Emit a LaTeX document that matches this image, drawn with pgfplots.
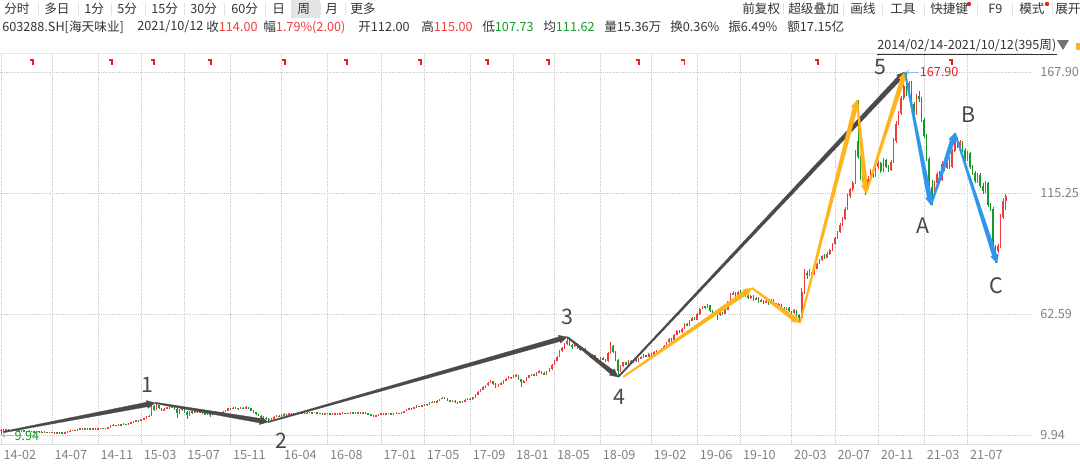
\documentclass[border=0pt]{standalone}
\usepackage{pgfplots}
\usepackage{pgfplotstable}
\pgfplotsset{compat=1.18}
\usepackage{fontspec}
\setmainfont{Noto Sans CJK SC}
\usetikzlibrary{arrows.meta}
\definecolor{upred}{HTML}{EE3B3B}
\definecolor{dngreen}{HTML}{159A2A}
\definecolor{txt}{HTML}{333333}
\definecolor{tickgray}{HTML}{808080}
\definecolor{waveblk}{HTML}{4A4A4A}
\definecolor{waveyel}{HTML}{FFB41E}
\definecolor{waveblu}{HTML}{2F95EE}
\definecolor{ltblue}{HTML}{86C0EC}
\definecolor{sepgray}{HTML}{E2E2E2}
\definecolor{selbg}{HTML}{E4E4E4}
\definecolor{markred}{HTML}{E8202A}
\pgfdeclareplotmark{divmark}{%
  \pgfpathmoveto{\pgfpoint{-1.8pt}{1.7pt}}%
  \pgfpathlineto{\pgfpoint{0.9pt}{1.7pt}}%
  \pgfpathlineto{\pgfpoint{0.9pt}{-2.1pt}}%
  \pgfusepathqstroke}
\pgfplotstableread{
o h l c
11.6 12.6 9.94 12.3
12.3 12.6 11.8 12.0
12.0 12.6 11.9 12.4
12.4 12.6 11.9 12.1
12.1 12.3 11.7 11.9
11.9 12.4 11.8 12.2
12.2 12.3 11.6 11.8
11.8 12.0 11.5 11.7
11.7 12.1 11.6 11.9
11.9 12.0 11.4 11.6
11.6 11.8 11.3 11.5
11.5 11.9 11.4 11.7
11.7 11.8 11.2 11.4
11.4 11.6 11.1 11.3
11.3 11.8 11.2 11.6
11.6 11.7 11.2 11.4
11.4 11.5 11.0 11.2
11.2 11.5 11.1 11.3
11.3 11.4 10.9 11.1
11.1 11.3 10.8 11.0
11.0 11.4 10.9 11.2
11.2 11.3 10.7 10.9
10.9 11.3 10.8 11.1
11.1 11.2 10.8 11.0
11.0 11.1 10.6 10.8
10.8 11.3 10.7 11.1
11.1 11.6 11.0 11.4
11.4 12.0 11.3 11.8
11.8 12.3 11.7 12.1
12.1 12.3 11.8 12.0
12.0 12.6 11.9 12.4
12.4 13.0 12.3 12.8
12.8 12.9 12.4 12.6
12.6 13.1 12.5 12.9
12.9 13.0 12.5 12.7
12.7 12.9 12.4 12.6
12.6 13.1 12.5 12.9
12.9 13.0 12.5 12.7
12.7 13.0 12.6 12.8
12.8 13.2 12.7 13.0
13.0 13.1 12.6 12.8
12.8 13.1 12.7 12.9
12.9 13.5 12.8 13.3
13.3 14.1 13.2 13.9
13.9 14.6 13.8 14.4
14.4 14.5 13.9 14.1
14.1 14.8 14.0 14.6
14.6 14.7 14.1 14.3
14.3 15.0 14.2 14.8
14.8 14.9 14.3 14.5
14.5 15.2 14.4 15.0
15.0 15.6 14.9 15.4
15.4 16.1 15.3 15.9
15.9 16.5 15.8 16.3
16.3 16.4 15.9 16.1
16.1 17.0 16.0 16.8
16.8 17.4 16.6 17.2
17.2 18.1 17.1 17.9
17.9 18.7 17.7 18.4
18.4 23.0 18.2 22.6
22.6 23.2 20.5 21.0
21.0 23.6 20.8 22.8
22.8 23.1 21.2 21.5
21.5 21.9 20.2 20.6
20.6 21.7 20.4 21.4
21.4 22.3 21.1 22.0
22.0 22.4 21.5 21.8
21.8 23.0 21.6 22.3
22.3 22.6 20.9 21.2
21.2 21.5 17.5 19.6
19.6 21.1 19.2 20.8
20.8 21.9 20.5 21.5
21.5 21.7 19.5 19.8
19.8 20.2 17.0 18.6
18.6 20.5 18.3 20.2
20.2 20.6 19.2 19.5
19.5 20.8 19.3 20.4
20.4 20.6 19.3 19.6
19.6 20.4 19.4 20.1
20.1 20.3 19.1 19.4
19.4 19.6 18.7 19.0
19.0 20.1 18.8 19.8
19.8 20.0 17.6 18.8
18.8 19.8 18.6 19.5
19.5 20.2 19.3 19.9
19.9 20.1 19.1 19.4
19.4 19.9 19.2 19.7
19.7 20.3 19.5 20.0
20.0 20.9 19.8 20.6
20.6 21.8 20.4 21.5
21.5 21.7 21.0 21.3
21.3 22.1 21.1 21.8
21.8 22.0 21.4 21.6
21.6 21.8 21.1 21.4
21.4 22.2 21.3 21.9
21.9 22.1 21.4 21.6
21.6 22.4 21.5 22.0
22.0 22.2 21.5 21.7
21.7 21.8 20.2 20.5
20.5 20.7 19.5 19.8
19.8 20.0 18.6 18.9
18.9 19.2 18.1 18.4
18.4 18.7 17.5 17.8
17.8 18.0 17.0 17.3
17.3 17.6 16.6 17.0
17.0 17.2 15.6 16.6
16.6 17.5 16.4 17.2
17.2 18.1 17.0 17.8
17.8 18.6 17.6 18.4
18.4 18.6 17.8 18.0
18.0 18.9 17.9 18.6
18.6 19.3 18.4 19.0
19.0 19.1 18.6 18.8
18.8 19.5 18.7 19.3
19.3 19.4 18.9 19.1
19.1 19.6 19.0 19.4
19.4 19.8 19.3 19.6
19.6 19.7 19.0 19.2
19.2 19.7 19.1 19.5
19.5 19.6 19.1 19.3
19.3 19.9 19.2 19.7
19.7 20.0 19.6 19.8
19.8 19.9 19.4 19.6
19.6 20.1 19.5 19.9
19.9 20.0 19.3 19.5
19.5 19.6 19.1 19.3
19.3 19.4 18.9 19.1
19.1 19.4 19.0 19.2
19.2 19.6 19.1 19.4
19.4 19.5 18.8 19.0
19.0 19.3 18.9 19.1
19.1 19.5 19.0 19.3
19.3 19.4 18.9 19.1
19.1 19.6 19.0 19.4
19.4 19.8 19.3 19.6
19.6 19.7 19.2 19.4
19.4 19.7 19.3 19.5
19.5 19.9 19.4 19.7
19.7 19.8 19.3 19.5
19.5 19.8 19.4 19.6
19.6 20.0 19.5 19.8
19.8 19.9 19.4 19.6
19.6 19.9 19.5 19.7
19.7 19.8 19.3 19.5
19.5 19.6 18.8 19.0
19.0 19.1 18.3 18.5
18.5 18.7 17.8 18.2
18.2 18.6 18.0 18.4
18.4 19.1 18.3 18.9
18.9 19.5 18.8 19.3
19.3 19.4 18.8 19.0
19.0 19.7 18.9 19.5
19.5 19.6 19.1 19.3
19.3 19.4 18.8 19.0
19.0 19.6 18.9 19.4
19.4 19.8 19.3 19.6
19.6 19.7 19.3 19.5
19.5 20.0 19.4 19.8
19.8 20.5 19.7 20.3
20.3 21.2 20.2 21.0
21.0 21.8 20.9 21.6
21.6 21.7 21.0 21.2
21.2 22.2 21.1 22.0
22.0 22.8 21.9 22.6
22.6 22.7 22.0 22.3
22.3 23.2 22.2 23.0
23.0 23.6 22.9 23.4
23.4 23.5 22.9 23.1
23.1 24.1 23.0 23.9
23.9 24.7 23.8 24.5
24.5 24.6 24.0 24.2
24.2 25.0 24.1 24.8
24.8 25.8 24.7 25.6
25.6 26.5 25.5 26.2
26.2 26.3 25.5 25.7
25.7 25.9 24.8 25.0
25.0 25.2 24.2 24.4
24.4 25.1 24.3 24.9
24.9 25.0 24.0 24.2
24.2 24.4 23.7 24.0
24.0 24.8 23.9 24.6
24.6 24.7 24.1 24.3
24.3 25.4 24.2 25.2
25.2 26.0 25.1 25.8
25.8 25.9 25.2 25.4
25.4 26.5 25.3 26.3
26.3 27.7 26.2 27.5
27.5 29.0 27.4 28.8
28.8 29.9 28.6 29.6
29.6 31.1 29.5 30.8
30.8 31.8 30.6 31.5
31.5 32.9 31.3 32.6
32.6 33.8 32.4 33.4
33.4 33.6 31.9 32.2
32.2 32.4 30.6 31.0
31.0 32.0 30.8 31.8
31.8 32.8 31.6 32.5
32.5 33.9 32.3 33.6
33.6 34.8 33.4 34.5
34.5 35.5 34.3 35.2
35.2 35.4 34.5 34.8
34.8 35.9 34.6 35.6
35.6 36.4 35.4 36.0
36.0 36.2 33.9 34.2
34.2 34.5 31.0 32.8
32.8 33.8 32.5 33.5
33.5 35.0 33.3 34.8
34.8 36.1 34.6 35.9
35.9 36.7 35.7 36.4
36.4 36.6 35.7 36.0
36.0 37.4 35.8 37.2
37.2 38.1 37.0 37.8
37.8 38.0 36.7 37.0
37.0 37.2 36.0 36.4
36.4 37.8 36.2 37.5
37.5 38.9 37.3 38.6
38.6 40.8 38.4 40.5
40.5 42.6 40.3 42.3
42.3 44.3 42.0 44.0
44.0 46.9 43.8 46.5
46.5 48.2 46.0 47.8
47.8 50.0 47.5 49.6
49.6 52.0 49.3 51.0
51.0 51.3 48.8 49.2
49.2 49.6 47.5 48.5
48.5 49.8 48.2 49.3
49.3 49.5 47.2 47.6
47.6 48.0 46.3 46.8
46.8 47.8 46.5 47.4
47.4 47.6 45.5 45.9
45.9 46.2 44.8 45.2
45.2 45.4 43.6 44.0
44.0 45.0 43.8 44.6
44.6 44.8 42.8 43.2
43.2 43.5 42.0 42.5
42.5 44.0 42.3 43.6
43.6 43.8 42.4 42.8
42.8 43.1 41.6 42.0
42.0 45.9 41.8 45.5
45.5 50.2 45.2 48.6
48.6 49.0 45.5 46.0
46.0 46.4 42.0 42.5
42.5 43.0 35.3 37.6
37.6 40.2 37.2 39.8
39.8 41.9 39.5 41.5
41.5 41.8 40.2 40.6
40.6 42.6 40.4 42.2
42.2 42.5 41.0 41.4
41.4 43.2 41.2 42.8
42.8 43.0 41.7 42.0
42.0 43.5 41.8 43.1
43.1 44.2 42.9 43.8
43.8 45.0 43.6 44.6
44.6 44.9 43.7 44.0
44.0 45.6 43.8 45.2
45.2 45.5 44.4 44.8
44.8 46.3 44.6 45.9
45.9 47.0 45.7 46.6
46.6 46.9 45.8 46.1
46.1 47.7 45.9 47.3
47.3 48.9 47.1 48.5
48.5 50.6 48.3 50.2
50.2 52.2 50.0 51.8
51.8 52.1 50.6 51.0
51.0 53.9 50.8 53.5
53.5 55.6 53.3 55.2
55.2 55.5 54.2 54.6
54.6 56.5 54.4 56.1
56.1 58.8 55.9 58.4
58.4 58.7 57.2 57.6
57.6 60.0 57.4 59.6
59.6 61.4 59.4 61.0
61.0 61.3 59.8 60.2
60.2 62.9 60.0 62.5
62.5 65.2 62.3 64.8
64.8 66.3 64.6 65.9
65.9 66.2 64.8 65.2
65.2 66.8 65.0 66.4
66.4 66.6 63.6 64.0
64.0 64.3 62.4 62.8
62.8 63.9 62.6 63.5
63.5 63.8 60.0 62.0
62.0 63.6 61.8 63.2
63.2 63.5 62.2 62.6
62.6 64.9 62.4 64.5
64.5 68.4 64.3 68.0
68.0 71.6 67.8 71.2
71.2 72.4 70.9 71.8
71.8 72.0 70.2 70.6
70.6 72.6 70.4 72.0
72.0 73.2 71.2 71.5
71.5 71.8 69.8 70.2
70.2 71.4 70.0 71.0
71.0 71.3 69.0 69.4
69.4 70.9 69.2 70.5
70.5 70.8 68.4 68.8
68.8 69.9 68.6 69.5
69.5 69.8 67.5 67.9
67.9 69.0 67.7 68.6
68.6 68.9 67.1 67.5
67.5 68.7 67.3 68.3
68.3 68.5 66.6 67.0
67.0 69.2 66.8 68.8
68.8 69.1 66.8 67.2
67.2 67.5 65.6 66.0
66.0 67.2 65.8 66.8
66.8 67.1 64.8 65.2
65.2 65.5 64.2 64.6
64.6 65.8 64.4 65.4
65.4 65.7 63.4 63.8
63.8 64.1 62.6 63.0
63.0 64.6 62.8 64.2
64.2 64.5 61.6 62.0
62.0 62.4 58.7 61.0
61.0 74.0 60.8 72.0
72.0 82.0 71.5 80.5
80.5 81.2 78.0 79.6
79.6 82.4 79.2 81.0
81.0 81.6 78.6 79.8
79.8 82.8 79.5 82.2
82.2 85.0 82.0 84.5
84.5 86.6 84.2 86.0
86.0 88.4 85.8 87.8
87.8 88.6 86.4 87.0
87.0 89.4 86.8 88.8
88.8 91.0 88.5 90.5
90.5 93.6 90.2 93.0
93.0 96.2 92.8 95.6
95.6 98.8 95.3 98.2
98.2 102.2 97.8 101.5
101.5 104.8 101.0 104.0
104.0 109.2 103.6 108.5
108.5 114.8 108.0 114.0
114.0 117.6 113.2 116.8
116.8 120.4 116.0 119.5
119.5 134.0 119.0 133.0
138.0 155.7 130.0 131.0
131.0 132.0 121.0 122.5
122.5 124.0 118.5 120.0
120.0 121.0 114.5 117.5
117.5 122.5 116.8 121.5
121.5 125.8 120.8 124.8
124.8 125.6 122.0 123.0
123.0 127.4 122.4 126.5
126.5 129.4 125.8 128.2
128.2 128.8 124.0 125.0
125.0 130.4 124.6 129.6
129.6 130.2 126.0 126.8
126.8 127.4 124.2 125.4
125.4 129.6 124.8 128.9
128.9 139.0 128.5 138.0
138.0 146.5 137.2 145.5
145.5 151.0 144.8 150.0
150.0 157.5 149.2 156.5
156.5 163.0 155.6 162.0
162.0 167.9 157.5 158.5
158.5 164.0 157.8 163.0
163.0 163.8 153.0 154.0
154.0 155.0 148.5 149.5
149.5 158.2 149.0 157.5
157.5 159.5 155.0 156.0
156.0 157.0 146.0 147.0
147.0 148.0 139.0 140.0
140.0 141.0 129.0 130.0
130.0 131.0 116.0 118.0
118.0 121.0 110.0 114.0
114.0 120.5 113.0 119.5
119.5 124.5 118.5 123.5
123.5 124.8 120.0 121.0
121.0 129.0 120.5 128.0
128.0 129.2 125.0 126.0
126.0 131.5 125.5 130.5
130.5 131.0 125.5 126.5
126.5 134.5 126.0 133.5
133.5 141.5 133.0 138.5
138.5 139.5 135.0 136.0
136.0 138.5 135.0 137.5
137.5 138.0 133.0 134.0
134.0 134.8 129.0 130.0
130.0 133.5 129.2 132.5
132.5 133.0 125.5 126.5
126.5 127.5 123.0 124.0
124.0 125.0 119.5 120.5
120.5 124.0 119.8 123.0
123.0 123.8 117.5 118.5
118.5 119.5 115.0 116.0
116.0 120.5 115.2 119.5
119.5 120.0 109.0 110.0
110.0 111.0 107.5 108.5
108.5 109.0 90.5 91.5
91.5 92.5 85.0 90.0
90.0 93.0 89.2 92.0
92.0 106.0 91.5 105.0
105.0 113.0 104.0 112.0
112.0 115.0 107.73 114.0
}\prices
\begin{document}
\begin{tikzpicture}
\useasboundingbox (0pt,0pt) rectangle (810pt,-348pt);
% ---------- header (pixel coordinates) ----------
\begin{scope}[x=0.75pt,y=-0.75pt,every node/.style={inner sep=0pt,anchor=west,text=txt,font=\fontsize{9.5}{11}\selectfont}]
  \fill[selbg] (291,0) rectangle (320,18);
  \foreach \sx in {38,78,111,145,184,224,265,291,320,345,783,843,882,924,977,1012,1052}
    \draw[sepgray,line width=0.6pt] (\sx,3) -- (\sx,15);
  \node at (4,9) {分时};
  \node at (44,9) {多日};
  \node at (84,9) {1分};
  \node at (117,9) {5分};
  \node at (151,9) {15分};
  \node at (190,9) {30分};
  \node at (231,9) {60分};
  \node at (272,9) {日};
  \node at (297,9) {周};
  \node at (325,9) {月};
  \node at (350,9) {更多};
  \node at (742,9) {前复权};
  \node at (788,9) {超级叠加};
  \node at (850,9) {画线};
  \node at (890,9) {工具};
  \node at (930,9) {快捷键};
  \fill[markred] (969,4) circle (2.2);
  \node at (988,9) {F9};
  \node at (1019,9) {模式};
  \fill[markred] (1047,4) circle (2.2);
  \node at (1055,9) {展开};
  % info row
  \node at (2,27) {603288.SH[海天味业]};
  \node at (137,27) {2021/10/12};
  \node at (206,27) {收\textcolor{upred}{114.00}};
  \node at (263,27) {幅\textcolor{upred}{1.79\%(2.00)}};
  \node at (358,27) {开112.00};
  \node at (421,27) {高\textcolor{upred}{115.00}};
  \node at (482,27) {低\textcolor{dngreen}{107.73}};
  \node at (543,27) {均\textcolor{dngreen}{111.62}};
  \node at (604,27) {量15.36万};
  \node at (670,27) {换0.36\%};
  \node at (728,27) {振6.49\%};
  \node at (787,27) {额17.15亿};
  % range row
  \node (rng) at (877,46) {2014/02/14-2021/10/12(395周)};
  \draw[txt,line width=0.6pt] (877,54) -- (rng.east |- 0,54);
  \fill[black!55] (1057,40) -- (1069,40) -- (1063,50) -- cycle;
  \fill[waveyel] (1076,43) rectangle (1080,50);
  % chart frame lines
  \draw[black!10,line width=0.6pt] (0,53) -- (1032,53);
  \draw[black!12,line width=0.6pt] (0,444) -- (1080,444);
\end{scope}
% ---------- chart ----------
\begin{axis}[
  at={(0pt,-333pt)}, anchor=south west,
  scale only axis, width=774pt, height=293.25pt,
  xmin=-0.39, xmax=404.3, ymin=6.02, ymax=176.2,
  axis line style={draw=none},
  major tick length=0pt,
  xtick={0,20,38,55,72,90,110,128,149,166,184,201,217,235,255,273,290,310,327,344,362,379},
  xticklabels={14-02,14-07,14-11,15-03,15-07,15-11,16-04,16-08,17-01,17-05,17-09,18-01,18-05,18-09,19-02,19-06,19-10,20-03,20-07,20-11,21-03,21-07},
  ytick={9.94,62.59,115.25,167.90},
  yticklabels={9.94,62.59,115.25,167.90},
  ytick pos=right, yticklabel pos=right,
  xmajorgrids, ymajorgrids,
  grid style={densely dotted, draw=black!20, line width=0.5pt},
  /pgf/number format/assume math mode=true,
  tick label style={font=\fontsize{9.5}{11}\selectfont, text=tickgray, inner sep=0pt},
  xticklabel style={anchor=north west, xshift=1.8pt, yshift=-4.5pt},
  yticklabel style={anchor=west, xshift=6pt},
  clip=false,
]
% up candles (red)
\addplot[draw=none, mark=none, restrict y to domain=0:500,
  error bars/.cd, y dir=both, y explicit, error mark=none,
  error bar style={draw=upred, solid, line width=0.45pt}]
  table[x expr=\coordindex, y expr={(\thisrow{h}+\thisrow{l})/2+1000*(\thisrow{c}<\thisrow{o})}, y error expr={(\thisrow{h}-\thisrow{l})/2}] {\prices};
\addplot[draw=none, mark=none, restrict y to domain=0:500,
  error bars/.cd, y dir=both, y explicit, error mark=none,
  error bar style={draw=upred, solid, line width=1.15pt}]
  table[x expr=\coordindex, y expr={(\thisrow{o}+\thisrow{c})/2+1000*(\thisrow{c}<\thisrow{o})}, y error expr={max(abs(\thisrow{c}-\thisrow{o})/2,0.15)}] {\prices};
% down candles (green)
\addplot[draw=none, mark=none, restrict y to domain=0:500,
  error bars/.cd, y dir=both, y explicit, error mark=none,
  error bar style={draw=dngreen, solid, line width=0.45pt}]
  table[x expr=\coordindex, y expr={(\thisrow{h}+\thisrow{l})/2+1000*(\thisrow{c}>=\thisrow{o})}, y error expr={(\thisrow{h}-\thisrow{l})/2}] {\prices};
\addplot[draw=none, mark=none, restrict y to domain=0:500,
  error bars/.cd, y dir=both, y explicit, error mark=none,
  error bar style={draw=dngreen, solid, line width=1.15pt}]
  table[x expr=\coordindex, y expr={(\thisrow{o}+\thisrow{c})/2+1000*(\thisrow{c}>=\thisrow{o})}, y error expr={max(abs(\thisrow{c}-\thisrow{o})/2,0.15)}] {\prices};
% dividend markers
\addplot[only marks, mark=divmark, markred, line width=1.25pt] coordinates {
 (12.2,172.3) (43.1,172.3) (59.6,172.3) (82.0,172.3) (111,172.3) (135.3,172.3) (164.3,172.3)
 (190.6,172.3) (214.5,172.3) (249.8,172.3) (267.5,172.3) (320,172.3) (372.5,172.3)};
% black waves (tapered arrows)
\addplot[fill=waveblk, draw=waveblk, line width=0.2pt] coordinates {(0.748,11.499) (57.149,24.226) (57.023,24.953) (60.4,23.9) (57.615,21.533) (57.489,22.260) (0.852,10.901)};
\addplot[fill=waveblk, draw=waveblk, line width=0.2pt] coordinates {(60.446,24.200) (101.757,17.167) (101.868,17.897) (104.7,15.6) (101.346,14.463) (101.457,15.193) (60.354,23.600)};
\addplot[fill=waveblk, draw=waveblk, line width=0.2pt] coordinates {(104.625,15.893) (218.735,52.611) (218.553,53.323) (222,52.6) (219.411,49.973) (219.229,50.685) (104.775,15.307)};
\addplot[fill=waveblk, draw=waveblk, line width=0.2pt] coordinates {(222.169,52.840) (240.088,38.136) (240.499,38.718) (242,35.2) (238.563,35.978) (238.975,36.560) (221.831,52.360)};
\addplot[fill=waveblk, draw=waveblk, line width=0.2pt] coordinates {(241.800,35.409) (351.693,166.050) (351.208,166.557) (354.5,167.9) (353.492,164.171) (353.007,164.678) (242.200,34.991)};
% yellow waves
\addplot[fill=waveyel, draw=waveyel, line width=0.2pt] coordinates {(243.844,35.451) (291.406,72.746) (291.027,73.355) (294.5,73.9) (292.809,70.489) (292.431,71.098) (244.156,34.949)};
\addplot[fill=waveyel, draw=waveyel, line width=0.2pt] coordinates {(294.662,74.146) (311.295,61.559) (311.688,62.157) (313.3,58.7) (309.840,59.343) (310.233,59.941) (294.338,73.654)};
\addplot[fill=waveyel, draw=waveyel, line width=0.2pt] coordinates {(313.034,58.776) (334.047,152.576) (333.402,152.759) (335.7,155.7) (336.441,151.895) (335.795,152.078) (313.566,58.624)};
\addplot[fill=waveyel, draw=waveyel, line width=0.2pt] coordinates {(335.973,155.729) (339.799,118.762) (340.462,118.832) (339.2,115.2) (337.340,118.500) (338.003,118.570) (335.427,155.671)};
\addplot[fill=waveyel, draw=waveyel, line width=0.2pt] coordinates {(338.939,115.294) (352.680,164.893) (352.045,165.120) (354.5,167.9) (355.031,164.052) (354.397,164.279) (339.461,115.107)};
% blue waves
\addplot[fill=waveblu, draw=waveblu, line width=0.2pt] coordinates {(354.769,167.958) (364.983,113.609) (365.638,113.751) (364.7,110) (362.559,113.083) (363.213,113.225) (354.231,167.842)};
\addplot[fill=waveblu, draw=waveblu, line width=0.2pt] coordinates {(364.440,110.096) (372.255,138.412) (371.622,138.645) (374.1,141.4) (374.600,137.547) (373.967,137.780) (364.960,109.904)};
\addplot[fill=waveblu, draw=waveblu, line width=0.2pt] coordinates {(374.361,141.494) (390.492,88.421) (391.126,88.649) (390.6,84.8) (388.142,87.577) (388.776,87.805) (373.839,141.306)};
% extreme value pointers
\addplot[ltblue, line width=0.6pt, {Straight Barb[length=2pt,width=3pt]}-] coordinates {(354.8,167.9) (359.8,167.9)};
\addplot[ltblue, line width=0.6pt, {Straight Barb[length=2pt,width=3pt]}-] coordinates {(0.3,9.7) (5.0,9.7)};
\node[anchor=west, inner sep=0pt, text=markred, font=\fontsize{9.5}{11}\selectfont] at (axis cs:360.2,167.9) {167.90};
\node[anchor=west, inner sep=0pt, text=dngreen, font=\fontsize{9.5}{11}\selectfont] at (axis cs:5.2,9.7) {9.94};
% wave labels
\tikzset{wl/.style={inner sep=0pt, text=txt!90, font=\fontsize{16}{18}\selectfont}}
\node[wl] at (axis cs:57.6,31.7) {1};
\node[wl] at (axis cs:109.8,7.3) {2};
\node[wl] at (axis cs:222,61.3) {3};
\node[wl] at (axis cs:242.7,26.5) {4};
\node[wl] at (axis cs:344.7,170.1) {5};
\node[wl] at (axis cs:361.5,100.9) {A};
\node[wl] at (axis cs:379.2,149.2) {B};
\node[wl] at (axis cs:390.2,74.8) {C};
\end{axis}
\end{tikzpicture}
\end{document}
